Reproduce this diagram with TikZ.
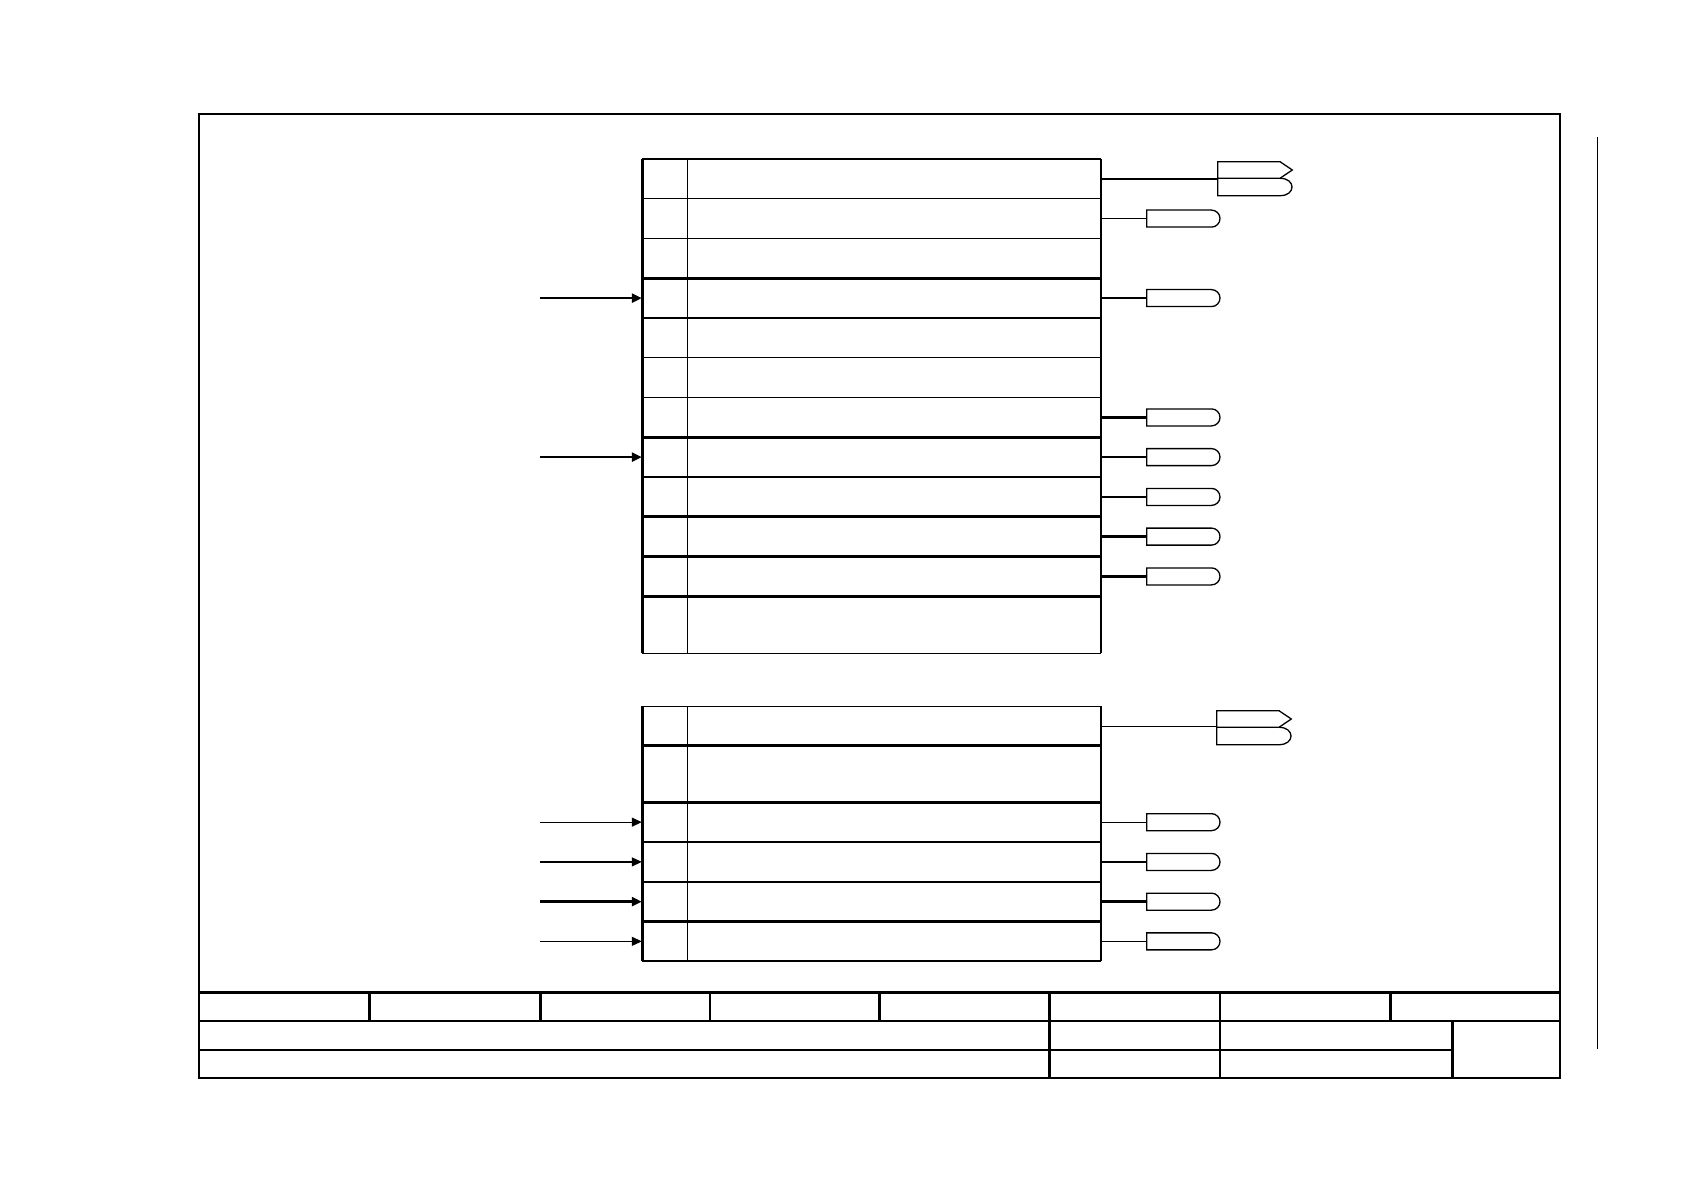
\documentclass[tikz,border=0pt]{standalone}
\usetikzlibrary{arrows.meta,shapes.misc}
\begin{document}
\begin{tikzpicture}[x=1pt,y=-1pt,
  thick line/.style={line width=2.6pt},
  thin line/.style={line width=1.3pt},
  rowanchor/.style={rectangle,inner sep=0pt,minimum width=459pt},
  pill/.style={rounded rectangle,rounded rectangle west arc=none,draw,line width=1.3pt,
    minimum width=73.3pt,minimum height=17pt,inner sep=0pt},
  inarrow/.style={-{Triangle[length=10pt,width=9pt]}},
  dbl/.pic={
    \draw[line width=1.3pt] (0,-16.6) -- (62.3,-16.6) -- (74.6,-8.3) -- (62.3,0) -- (0,0) -- cycle;
    \draw[line width=1.3pt] (62.3,0) .. controls (78.3,0) and (78.3,17.4) .. (62.3,17.4) -- (0,17.4) -- (0,0);
  }]
\useasboundingbox (0,0) rectangle (1684,1190);

% ---------- frame ----------
\draw[line width=2pt] (199.3,114) rectangle (1560,1077.7);
\draw[thin line] (1597.3,137.3) -- (1597.3,1049.3);

% ---------- title block ----------
\draw[thick line] (199.3,992.7) -- (1560,992.7);
\draw[thick line] (199.3,1021) -- (1560,1021);
\draw[thick line] (199.3,1050) -- (1452.4,1050);
\foreach \x in {369.5,540.2,709.9,879.6,1049.5,1220,1390.4}
  \draw[thick line] (\x,992.7) -- (\x,1021);
\foreach \x in {1049.5,1220,1452.4}
  \draw[thick line] (\x,1021) -- (\x,1077.7);

% ---------- upper block ----------
\foreach \y/\w in {159/2.6,198.75/1.3,238.5/1.3,278.25/2.6,318/2.6,357.75/1.3,397.5/1.3,
                   437.25/2.6,477/1.3,516.75/2.6,556.5/2.6,596.25/2.6,653.3/1.5}
  \draw[line width=\w pt] (642,\y) -- (1101,\y);
\draw[line width=3pt] (642,159) -- (642,653.3);
\draw[thin line] (687.3,159) -- (687.3,653.3);
\draw[thin line] (1101,159) -- (1101,653.3);

\foreach \i/\y in {0/178.9,1/218.6,2/258.4,3/298.1,4/337.9,5/377.6,6/417.4,7/457.1,8/496.9,9/536.6,10/576.4}
  \node[rowanchor,minimum height=39.75pt] (t\i) at (871.5,\y) {};
\node[rowanchor,minimum height=57pt] (t11) at (871.5,624.8) {};

% ---------- lower block ----------
\foreach \y/\w in {706.3/1.5,745.7/2.6,802.3/2.6,842/1.3,881.8/2.6,921.5/2.6,961.2/1.5}
  \draw[line width=\w pt] (642,\y) -- (1101,\y);
\draw[line width=3pt] (642,706.3) -- (642,961.2);
\draw[thin line] (687.3,706.3) -- (687.3,961.2);
\draw[thin line] (1101,706.3) -- (1101,961.2);

\node[rowanchor,minimum height=39.4pt] (b0) at (871.5,726.2) {};
\node[rowanchor,minimum height=56.6pt] (b1) at (871.5,774) {};
\foreach \i/\y in {2/822.15,3/861.9,4/901.65,5/941.35}
  \node[rowanchor,minimum height=39.7pt] (b\i) at (871.5,\y) {};

% ---------- input arrows ----------
\coordinate (ia3) at (540,298.1);
\coordinate (ia7) at (540,457.1);
\draw[thick line,inarrow] (ia3) -- (t3.west);
\draw[thick line,inarrow] (ia7) -- (t7.west);
\coordinate (ib2) at (540,822.15);
\coordinate (ib3) at (540,861.9);
\coordinate (ib4) at (540,901.65);
\coordinate (ib5) at (540,941.35);
\draw[thin line,inarrow] (ib2) -- (b2.west);
\draw[thin line,inarrow] (ib3) -- (b3.west);
\draw[thick line,inarrow] (ib4) -- (b4.west);
\draw[thin line,inarrow] (ib5) -- (b5.west);

% ---------- output connectors (upper) ----------
\pic at (1217.7,178.3) {dbl};
\coordinate (dt0) at (1217.7,178.9);
\draw[thick line] (t0.east) -- (dt0);
\foreach \i/\y in {1/218.6,3/298.1,6/417.4,7/457.1,8/496.9,9/536.6,10/576.4}
  \node[pill] (pt\i) at (1183.35,\y) {};
\draw[thin line] (t1.east) -- (pt1.west);
\draw[thick line] (t3.east) -- (pt3.west);
\draw[thick line] (t6.east) -- (pt6.west);
\draw[thick line] (t7.east) -- (pt7.west);
\draw[thin line] (t8.east) -- (pt8.west);
\draw[thick line] (t9.east) -- (pt9.west);
\draw[thick line] (t10.east) -- (pt10.west);

% ---------- output connectors (lower) ----------
\pic at (1216.7,727.3) {dbl};
\coordinate (db0) at (1216.7,726.2);
\draw[thin line] (b0.east) -- (db0);
\foreach \i/\y in {2/822.15,3/861.9,4/901.65,5/941.35}
  \node[pill] (pb\i) at (1183.35,\y) {};
\draw[thin line] (b2.east) -- (pb2.west);
\draw[thin line] (b3.east) -- (pb3.west);
\draw[thick line] (b4.east) -- (pb4.west);
\draw[thin line] (b5.east) -- (pb5.west);
\end{tikzpicture}
\end{document}
